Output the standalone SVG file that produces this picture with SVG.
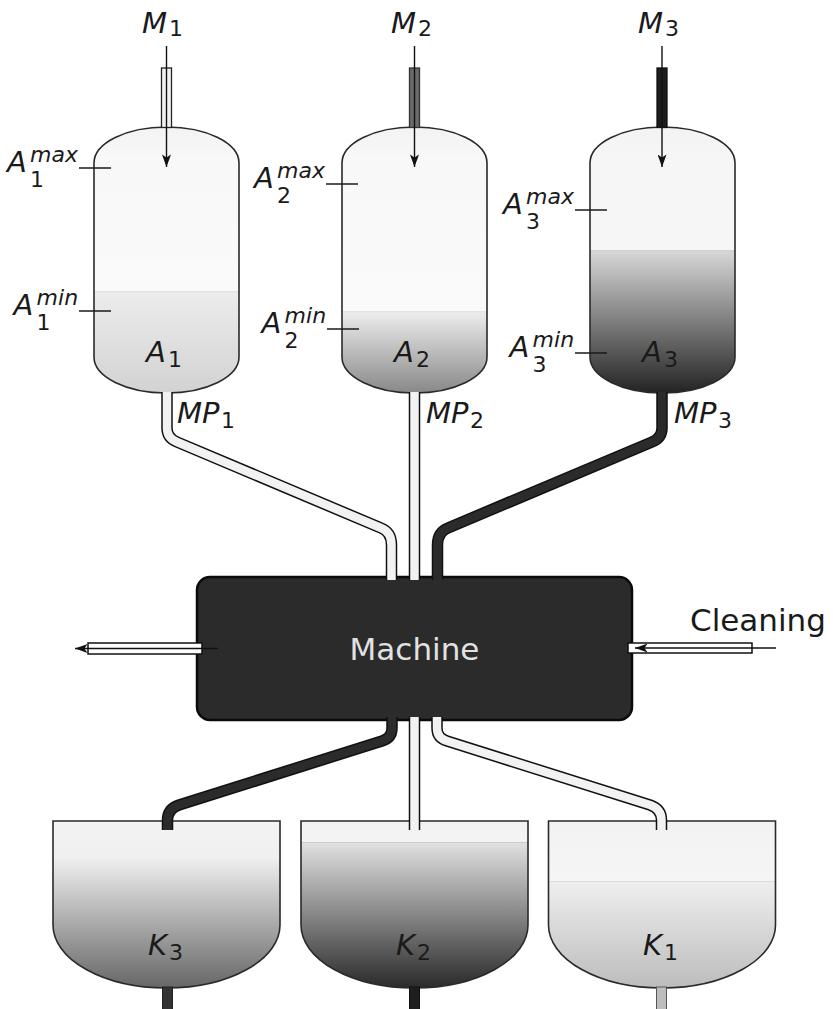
<svg xmlns="http://www.w3.org/2000/svg" width="833" height="1009" viewBox="0 0 833 1009">
  <style>
    .lbl { font-family: "DejaVu Sans", "Liberation Sans", sans-serif; font-style: italic; fill: #1a1a1a; font-size: 29px; }
    .sm { font-size: 22px; }
    .dg { font-size: 22px; font-style: normal; }
    .plain { font-family: "DejaVu Sans", "Liberation Sans", sans-serif; font-size: 31px; }
    .vessel { stroke: #2a2a2a; stroke-width: 1.6; }
    .tick { stroke: #1a1a1a; stroke-width: 1.5; fill: none; }
    .pipe-out { fill: none; stroke: #111; stroke-width: 11.5; stroke-linecap: butt; stroke-linejoin: round; }
    .pipe-light { fill: none; stroke: #f2f2f2; stroke-width: 8.5; stroke-linecap: butt; stroke-linejoin: round; }
    .pipe-dark { fill: none; stroke: #2b2b2b; stroke-width: 8.5; stroke-linecap: butt; stroke-linejoin: round; }
    .flow { stroke: #111; stroke-width: 1.4; fill: none; }
  </style>
  <defs>
    <marker id="head" viewBox="0 0 14 10" refX="14" refY="5" markerWidth="13" markerHeight="9" markerUnits="userSpaceOnUse" orient="auto">
      <path d="M0,0 L14,5 L0,10 L3.5,5 Z" fill="#111"/>
    </marker>
    <!-- tank fills: empty space above the level, liquid below -->
    <linearGradient id="fillA1" gradientUnits="userSpaceOnUse" x1="0" y1="127" x2="0" y2="393">
      <stop offset="0" stop-color="#f3f3f3"/>
      <stop offset="0.12" stop-color="#f8f8f8"/>
      <stop offset="0.6165" stop-color="#fafafa"/>
      <stop offset="0.6165" stop-color="#e2e2e2"/>
      <stop offset="0.625" stop-color="#ececec"/>
      <stop offset="1" stop-color="#d2d2d2"/>
    </linearGradient>
    <linearGradient id="fillA2" gradientUnits="userSpaceOnUse" x1="0" y1="127" x2="0" y2="393">
      <stop offset="0" stop-color="#f3f3f3"/>
      <stop offset="0.12" stop-color="#f8f8f8"/>
      <stop offset="0.6917" stop-color="#fafafa"/>
      <stop offset="0.6917" stop-color="#e0e0e0"/>
      <stop offset="0.70" stop-color="#ececec"/>
      <stop offset="1" stop-color="#888888"/>
    </linearGradient>
    <linearGradient id="fillA3" gradientUnits="userSpaceOnUse" x1="0" y1="127" x2="0" y2="393">
      <stop offset="0" stop-color="#f3f3f3"/>
      <stop offset="0.12" stop-color="#f6f6f6"/>
      <stop offset="0.4624" stop-color="#f6f6f6"/>
      <stop offset="0.4624" stop-color="#cfcfcf"/>
      <stop offset="0.47" stop-color="#d6d6d6"/>
      <stop offset="1" stop-color="#232323"/>
    </linearGradient>
    <linearGradient id="fillK3" gradientUnits="userSpaceOnUse" x1="0" y1="821" x2="0" y2="988">
      <stop offset="0" stop-color="#f3f3f3"/>
      <stop offset="0.22" stop-color="#f0f0f0"/>
      <stop offset="1" stop-color="#666666"/>
    </linearGradient>
    <linearGradient id="fillK2" gradientUnits="userSpaceOnUse" x1="0" y1="821" x2="0" y2="988">
      <stop offset="0" stop-color="#f2f2f2"/>
      <stop offset="0.1257" stop-color="#f4f4f4"/>
      <stop offset="0.1257" stop-color="#c4c4c4"/>
      <stop offset="0.135" stop-color="#e0e0e0"/>
      <stop offset="1" stop-color="#2a2a2a"/>
    </linearGradient>
    <linearGradient id="fillK1" gradientUnits="userSpaceOnUse" x1="0" y1="821" x2="0" y2="988">
      <stop offset="0" stop-color="#f2f2f2"/>
      <stop offset="0.359" stop-color="#f5f5f5"/>
      <stop offset="0.359" stop-color="#d0d0d0"/>
      <stop offset="0.368" stop-color="#eeeeee"/>
      <stop offset="1" stop-color="#bcbcbc"/>
    </linearGradient>
  </defs>

  <rect width="833" height="1009" fill="#ffffff"/>

  <!-- storage tanks -->
  <g id="tank-a1">
    <path class="vessel" fill="url(#fillA1)" d="M94,163 A72.5,36 0 0 1 239,163 L239,357 A72.5,36 0 0 1 94,357 Z"/>
    <line class="tick" x1="79" y1="168" x2="111" y2="168"/>
    <line class="tick" x1="79" y1="311" x2="111" y2="311"/>
    <text class="lbl" x="7" y="171.5">A<tspan class="sm" x="30" y="161.5">max</tspan><tspan class="dg" x="30" y="186.5">1</tspan></text>
    <text class="lbl" x="13.6" y="314.5">A<tspan class="sm" x="36.6" y="304.5">min</tspan><tspan class="dg" x="36.6" y="329.5">1</tspan></text>
    <text class="lbl" x="146" y="362">A<tspan class="dg" x="168" y="367">1</tspan></text>
  </g>
  <g id="tank-a2">
    <path class="vessel" fill="url(#fillA2)" d="M342,163 A72.5,36 0 0 1 487,163 L487,357 A72.5,36 0 0 1 342,357 Z"/>
    <line class="tick" x1="326" y1="184" x2="358" y2="184"/>
    <line class="tick" x1="327" y1="329" x2="359" y2="329"/>
    <text class="lbl" x="254" y="187.5">A<tspan class="sm" x="277" y="177.5">max</tspan><tspan class="dg" x="277" y="202.5">2</tspan></text>
    <text class="lbl" x="261.6" y="332.5">A<tspan class="sm" x="284.6" y="322.5">min</tspan><tspan class="dg" x="284.6" y="347.5">2</tspan></text>
    <text class="lbl" x="394" y="362">A<tspan class="dg" x="416" y="367">2</tspan></text>
  </g>
  <g id="tank-a3">
    <path class="vessel" fill="url(#fillA3)" d="M590,163 A72.5,36 0 0 1 735,163 L735,357 A72.5,36 0 0 1 590,357 Z"/>
    <line class="tick" x1="575" y1="210" x2="607" y2="210"/>
    <line class="tick" x1="575" y1="353" x2="607" y2="353"/>
    <text class="lbl" x="503" y="213.5">A<tspan class="sm" x="526" y="203.5">max</tspan><tspan class="dg" x="526" y="228.5">3</tspan></text>
    <text class="lbl" x="509.6" y="356.5">A<tspan class="sm" x="532.6" y="346.5">min</tspan><tspan class="dg" x="532.6" y="371.5">3</tspan></text>
    <text class="lbl" x="642" y="362">A<tspan class="dg" x="664" y="367">3</tspan></text>
  </g>

  <!-- processing machine -->
  <g id="machine">
    <rect x="197" y="577" width="435" height="143" rx="13" ry="13" fill="#2b2b2b" stroke="#0a0a0a" stroke-width="2.5"/>
    <text class="plain" x="414.5" y="660" text-anchor="middle" fill="#e2e2e2">Machine</text>
  </g>

  <!-- receiving containers -->
  <g id="container-k3">
    <path class="vessel" fill="url(#fillK3)" d="M53,821 L280,821 L280,925 A113.5,63 0 0 1 53,925 Z"/>
    <text class="lbl" x="148" y="955">K<tspan class="dg" x="169" y="960">3</tspan></text>
  </g>
  <g id="container-k2">
    <path class="vessel" fill="url(#fillK2)" d="M301,821 L528,821 L528,925 A113.5,63 0 0 1 301,925 Z"/>
    <text class="lbl" x="396" y="955">K<tspan class="dg" x="417" y="960">2</tspan></text>
  </g>
  <g id="container-k1">
    <path class="vessel" fill="url(#fillK1)" d="M548.5,821 L775.5,821 L775.5,925 A113.5,63 0 0 1 548.5,925 Z"/>
    <text class="lbl" x="643" y="955">K<tspan class="dg" x="664" y="960">1</tspan></text>
  </g>

  <!-- feed lines, transfer pipes and outlets -->
  <g id="connectors">
    <!-- material feeds into the tanks -->
    <rect x="161.5" y="68" width="10" height="59.5" fill="#f2f2f2" stroke="#222" stroke-width="1.3"/>
    <rect x="409.5" y="68" width="10" height="59.5" fill="#6a6a6a" stroke="#333" stroke-width="1.3"/>
    <rect x="657" y="68" width="10" height="59.5" fill="#1c1c1c" stroke="#111" stroke-width="1.3"/>
    <line class="flow" x1="166.5" y1="46" x2="166.5" y2="167" marker-end="url(#head)"/>
    <line class="flow" x1="414.5" y1="46" x2="414.5" y2="167" marker-end="url(#head)"/>
    <line class="flow" x1="662" y1="46" x2="662" y2="167" marker-end="url(#head)"/>
    <text class="lbl" x="142" y="33">M<tspan class="dg" x="169" y="36">1</tspan></text>
    <text class="lbl" x="391" y="33">M<tspan class="dg" x="418" y="36">2</tspan></text>
    <text class="lbl" x="638" y="33">M<tspan class="dg" x="665" y="36">3</tspan></text>

    <!-- tank to machine -->
    <path class="pipe-out" d="M167,392 V428 Q167,438 177,442 L381,528 Q391.5,532 391.5,545 V580"/>
    <path class="pipe-light" d="M167,392 V428 Q167,438 177,442 L381,528 Q391.5,532 391.5,545 V580"/>
    <path class="pipe-out" d="M414.5,392 V580"/>
    <path class="pipe-light" d="M414.5,392 V580"/>
    <path class="pipe-out" d="M662,392 V428 Q662,438 652,442 L448,528 Q437.5,532 437.5,545 V580"/>
    <path class="pipe-dark" d="M662,392 V428 Q662,438 652,442 L448,528 Q437.5,532 437.5,545 V580"/>
    <text class="lbl" x="177" y="423">MP<tspan class="dg" x="221" y="428">1</tspan></text>
    <text class="lbl" x="426" y="423">MP<tspan class="dg" x="470" y="428">2</tspan></text>
    <text class="lbl" x="674" y="423">MP<tspan class="dg" x="718" y="428">3</tspan></text>

    <!-- machine to containers -->
    <path class="pipe-out" d="M392,717 V728 Q392,738 382,741 L179,805 Q167.5,809 167.5,820 V830"/>
    <path class="pipe-dark" d="M392,717 V728 Q392,738 382,741 L179,805 Q167.5,809 167.5,820 V830"/>
    <path class="pipe-out" d="M414.5,717 V830"/>
    <path class="pipe-light" d="M414.5,717 V830"/>
    <path class="pipe-out" d="M437,717 V728 Q437,738 447,741 L650,805 Q661.5,809 661.5,820 V830"/>
    <path class="pipe-light" d="M437,717 V728 Q437,738 447,741 L650,805 Q661.5,809 661.5,820 V830"/>

    <!-- container drains -->
    <rect x="162.5" y="987" width="10" height="24" fill="#333" stroke="#222" stroke-width="1"/>
    <rect x="409.5" y="987" width="10" height="24" fill="#1e1e1e" stroke="#111" stroke-width="1"/>
    <rect x="656.5" y="987" width="10" height="24" fill="#bdbdbd" stroke="#555" stroke-width="1"/>

    <!-- waste outlet, left -->
    <rect x="88" y="643" width="114" height="11" fill="#ffffff" stroke="#111" stroke-width="1.5"/>
    <line class="flow" x1="218" y1="648.5" x2="75" y2="648.5" marker-end="url(#head)"/>

    <!-- cleaning inlet, right -->
    <rect x="628" y="643" width="124" height="10" fill="#ffffff" stroke="#111" stroke-width="1.5"/>
    <line class="flow" x1="776" y1="648" x2="635" y2="648" marker-end="url(#head)"/>
    <text class="plain" x="690" y="631" fill="#1a1a1a">Cleaning</text>
  </g>
</svg>
